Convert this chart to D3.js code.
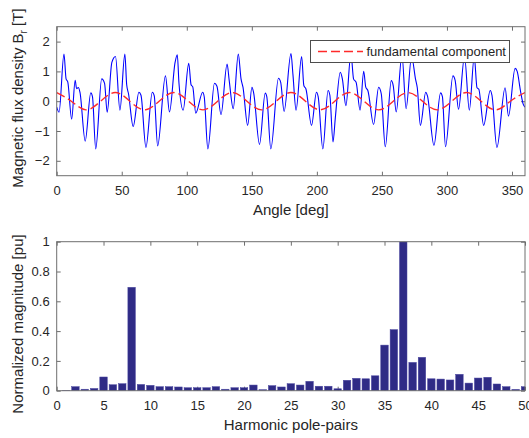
<!DOCTYPE html>
<html lang="en">

<head>
    <meta charset="UTF-8">
    <title>Flux density and harmonics</title>
    <script src="https://d3js.org/d3.v7.min.js"></script>
    <style>
        body { margin: 0; background: #fff; }
        text { font-family: "Liberation Sans", Arial, sans-serif; fill: #262626; }
    </style>
</head>

<body>
    <div id="chart"></div>

    <script>
        // radial flux density waveform at its turning points
        const fluxAngle = [0, 1.8, 5.6, 7.2, 8.5, 11.5, 14.2, 15.3, 16.6, 17.9, 21.9, 26.2, 27.5, 30.0,
            34.6, 36.8, 38.8, 42.4, 45.2, 48.6, 52.4, 53.8, 55.2, 58.8, 63.2, 64.8, 68.6, 73.5, 75.0, 77.6,
            83.6, 86.7, 91.0, 92.7, 94.0, 97.2, 101.5, 103.3, 104.6, 106.9, 112.2, 113.4, 116.2,
            121.3, 123.2, 126.3, 131.0, 132.6, 135.7, 139.6, 141.7, 143.2, 146.8, 150.1, 151.4, 155.9,
            160.3, 161.5, 164.6, 170.5, 172.2, 174.8, 180.1, 181.6, 184.0, 188.3, 190.0, 191.6, 195.9,
            199.7, 201.0, 204.6, 208.6, 210.0, 212.4, 214.2, 218.0, 219.6, 222.3, 226.2, 228.2, 230.2,
            233.2, 236.0, 237.6, 239.2, 243.6, 247.5, 249.5, 252.6, 257.2, 258.7, 261.0, 265.4, 268.6,
            272.8, 275.8, 277.2, 279.6, 283.7, 285.0, 290.0, 295.1, 296.5, 298.9, 304.6, 306.3, 308.9,
            313.5, 317.2, 321.0, 323.1, 324.5, 328.2, 333.3, 334.6, 338.4, 344.7, 347.3, 352.4, 354.0,
            356.5, 358.6, 360];
        const fluxValue = [-0.2, -0.37, 1.58, 0.75, 0.65, -0.6, 0.7, 0.42, 0.46, 0.3, -1.34, 0.28, 0.15, -1.6,
            0.75, 0.6, -0.37, 1.3, 1.5, -0.3, 1.58, 0.55, 0.25, -0.85, 0.3, 0.2, -1.55, 0.3, 0.18, -1.5,
            0.85, -0.36, 1.3, 1.56, 0.6, -0.3, 1.27, 0.55, 0.48, -0.4, 0.3, 0.15, -1.6,
            0.6, 0.5, -0.45, 1.25, 0.7, -0.25, 1.58, 0.75, 0.47, -0.81, 0.47, 0.28, -1.45,
            0.27, 0.15, -1.6, 0.77, 0.63, -0.34, 1.6, 0.9, -0.3, 1.5, 0.52, 0.41, -0.81,
            0.3, 0.15, -1.6, 0.36, 0.2, -1.37, -0.55, 0.97, 0.75, -0.15, 1.6, 0.75, 0.63,
            -0.3, 1.0, 0.47, 0.36, -0.78, 0.47, 0.25, -1.53, 0.69, 0.52, -0.36, 1.55, -0.25,
            1.5, 0.75, 0.45, -0.81, 0.3, 0.18, -1.48, 0.28, 0.15, -1.53, 0.85, 0.7, -0.27,
            1.5, -0.3, 1.5, 0.45, 0.4, -0.81, 0.36, 0.2, -1.55, 0.45, -0.5, 1.1, 1.0,
            0.35, -0.1, -0.2];

        // fundamental component (red dashed), quarter-period points
        const fundAngle = [0, 11.25, 22.5, 33.75, 45, 56.25, 67.5, 78.75, 90, 101.25, 112.5, 123.75,
            135, 146.25, 157.5, 168.75, 180, 191.25, 202.5, 213.75, 225, 236.25, 247.5, 258.75,
            270, 281.25, 292.5, 303.75, 315, 326.25, 337.5, 348.75, 360];
        const fundValue = [0.29, 0, -0.29, 0, 0.29, 0, -0.29, 0, 0.29, 0, -0.29, 0,
            0.29, 0, -0.29, 0, 0.29, 0, -0.29, 0, 0.29, 0, -0.29, 0,
            0.29, 0, -0.29, 0, 0.29, 0, -0.29, 0, 0.29];

        // harmonic spectrum, pole-pairs 1..50
        const harmonicOrder = d3.range(1, 51);
        const harmonicMag = [0.003, 0.027, 0.01, 0.015, 0.092, 0.04, 0.047, 0.694, 0.042, 0.036,
            0.027, 0.027, 0.025, 0.02, 0.02, 0.02, 0.027, 0.01, 0.02, 0.02,
            0.038, 0.007, 0.034, 0.025, 0.047, 0.038, 0.063, 0.03, 0.03, 0.013,
            0.07, 0.083, 0.08, 0.1, 0.306, 0.41, 1.0, 0.19, 0.224, 0.08,
            0.078, 0.072, 0.11, 0.051, 0.085, 0.09, 0.045, 0.027, 0.009, 0.027];

        const angleTicks = [0, 50, 100, 150, 200, 250, 300, 350];
        const fluxTicks = [-2, -1, 0, 1, 2];
        const orderTicks = [0, 5, 10, 15, 20, 25, 30, 35, 40, 45, 50];
        const magTicks = [0, 0.2, 0.4, 0.6, 0.8, 1];

        const width = 529;
        const height = 438;
        const plotLeft = 56.7;
        const plotRight = 525;
        const axisColor = "#6e6e6e";
        const tickLen = 4;

        const svg = d3.select("#chart")
            .append("svg")
            .attr("width", width)
            .attr("height", height);

        svg.append("rect")
            .attr("width", width)
            .attr("height", height)
            .attr("fill", "#fff");

        function drawFrame(x, y, xTicks, yTicks, yFormat, clipId) {
            const [top, bottom] = [y.range()[1], y.range()[0]];

            const styleAxis = g => {
                g.selectAll(".tick line").attr("stroke", axisColor);
                g.selectAll(".tick text")
                    .attr("font-size", 13)
                    .attr("fill", "#333")
                    .attr("font-family", "'Liberation Sans', Arial, sans-serif");
            };

            svg.append("g")
                .attr("transform", `translate(0,${bottom})`)
                .call(d3.axisBottom(x).tickValues(xTicks).tickSizeInner(-tickLen).tickSizeOuter(0).tickPadding(10))
                .call(g => g.select(".domain").remove())
                .call(styleAxis);

            svg.append("g")
                .attr("transform", `translate(0,${top})`)
                .call(d3.axisTop(x).tickValues(xTicks).tickSizeInner(-tickLen).tickSizeOuter(0).tickFormat(""))
                .call(g => g.select(".domain").remove())
                .call(styleAxis);

            svg.append("g")
                .attr("transform", `translate(${plotLeft},0)`)
                .call(d3.axisLeft(y).tickValues(yTicks).tickSizeInner(-tickLen).tickSizeOuter(0).tickPadding(7).tickFormat(yFormat))
                .call(g => g.select(".domain").remove())
                .call(styleAxis);

            svg.append("g")
                .attr("transform", `translate(${plotRight},0)`)
                .call(d3.axisRight(y).tickValues(yTicks).tickSizeInner(-tickLen).tickSizeOuter(0).tickFormat(""))
                .call(g => g.select(".domain").remove())
                .call(styleAxis);

            svg.append("clipPath")
                .attr("id", clipId)
                .append("rect")
                .attr("x", plotLeft)
                .attr("y", top)
                .attr("width", plotRight - plotLeft)
                .attr("height", bottom - top);
        }

        function drawBox(y) {
            const [top, bottom] = [y.range()[1], y.range()[0]];
            svg.append("rect")
                .attr("x", plotLeft)
                .attr("y", top)
                .attr("width", plotRight - plotLeft)
                .attr("height", bottom - top)
                .attr("fill", "none")
                .attr("stroke", axisColor)
                .attr("stroke-width", 1);
        }

        // ---- top: waveform ----
        const xAngle = d3.scaleLinear().domain([0, 360]).range([plotLeft, plotRight]);
        const yFlux = d3.scaleLinear().domain([-2.5, 2.5]).range([175.7, 26.7]);

        drawFrame(xAngle, yFlux, angleTicks, fluxTicks, d3.format("d"), "clip-top");

        const fluxLine = d3.line()
            .x(i => xAngle(fluxAngle[i]))
            .y(i => yFlux(fluxValue[i]))
            .curve(d3.curveMonotoneX);

        svg.append("path")
            .datum(d3.range(fluxAngle.length))
            .attr("clip-path", "url(#clip-top)")
            .attr("d", fluxLine)
            .attr("fill", "none")
            .attr("stroke", "#0000ff")
            .attr("stroke-width", 1.1);

        const fundLine = d3.line()
            .x(i => xAngle(fundAngle[i]))
            .y(i => yFlux(fundValue[i]))
            .curve(d3.curveNatural);

        svg.append("path")
            .datum(d3.range(fundAngle.length))
            .attr("clip-path", "url(#clip-top)")
            .attr("d", fundLine)
            .attr("fill", "none")
            .attr("stroke", "#ff2a2a")
            .attr("stroke-width", 1.4)
            .attr("stroke-dasharray", "9,4");

        // legend
        const legend = svg.append("g");
        legend.append("rect")
            .attr("x", 310.5)
            .attr("y", 40.5)
            .attr("width", 199)
            .attr("height", 22)
            .attr("fill", "#fff")
            .attr("stroke", "#4d4d4d");
        legend.append("line")
            .attr("x1", 318).attr("x2", 363)
            .attr("y1", 51.5).attr("y2", 51.5)
            .attr("stroke", "#ff2a2a")
            .attr("stroke-width", 1.4)
            .attr("stroke-dasharray", "9,4");
        legend.append("text")
            .attr("x", 366.5)
            .attr("y", 51.5)
            .attr("dy", "0.35em")
            .attr("font-size", 13)
            .text("fundamental component");

        drawBox(yFlux);

        svg.append("text")
            .attr("x", (plotLeft + plotRight) / 2)
            .attr("y", 215)
            .attr("text-anchor", "middle")
            .attr("font-size", 15)
            .text("Angle [deg]");

        const yLabelTop = svg.append("text")
            .attr("transform", "translate(23,98) rotate(-90)")
            .attr("text-anchor", "middle")
            .attr("font-size", 15);
        yLabelTop.append("tspan").text("Magnetic flux density B");
        yLabelTop.append("tspan").attr("font-size", 10).attr("dy", 4).text("r");
        yLabelTop.append("tspan").attr("dy", -4).text(" [T]");

        // ---- bottom: harmonic spectrum ----
        const xOrder = d3.scaleLinear().domain([0, 50]).range([plotLeft, plotRight]);
        const yMag = d3.scaleLinear().domain([0, 1]).range([390.7, 241.7]);
        const barWidth = xOrder(0.8) - xOrder(0);

        drawFrame(xOrder, yMag, orderTicks, magTicks, d3.format("~g"), "clip-bottom");

        svg.append("g")
            .attr("clip-path", "url(#clip-bottom)")
            .selectAll("rect")
            .data(harmonicOrder)
            .join("rect")
            .attr("x", (d, i) => xOrder(d) - barWidth / 2)
            .attr("y", (d, i) => yMag(harmonicMag[i]))
            .attr("width", barWidth)
            .attr("height", (d, i) => yMag(0) - yMag(harmonicMag[i]))
            .attr("fill", "#2f2b86")
            .attr("stroke", "#4a46a0")
            .attr("stroke-width", 0.5);

        drawBox(yMag);

        svg.append("text")
            .attr("x", (plotLeft + plotRight) / 2)
            .attr("y", 430)
            .attr("text-anchor", "middle")
            .attr("font-size", 15)
            .text("Harmonic pole-pairs");

        svg.append("text")
            .attr("transform", "translate(23,324) rotate(-90)")
            .attr("text-anchor", "middle")
            .attr("font-size", 15)
            .text("Normalized magnitude [pu]");
    </script>
</body>

</html>
